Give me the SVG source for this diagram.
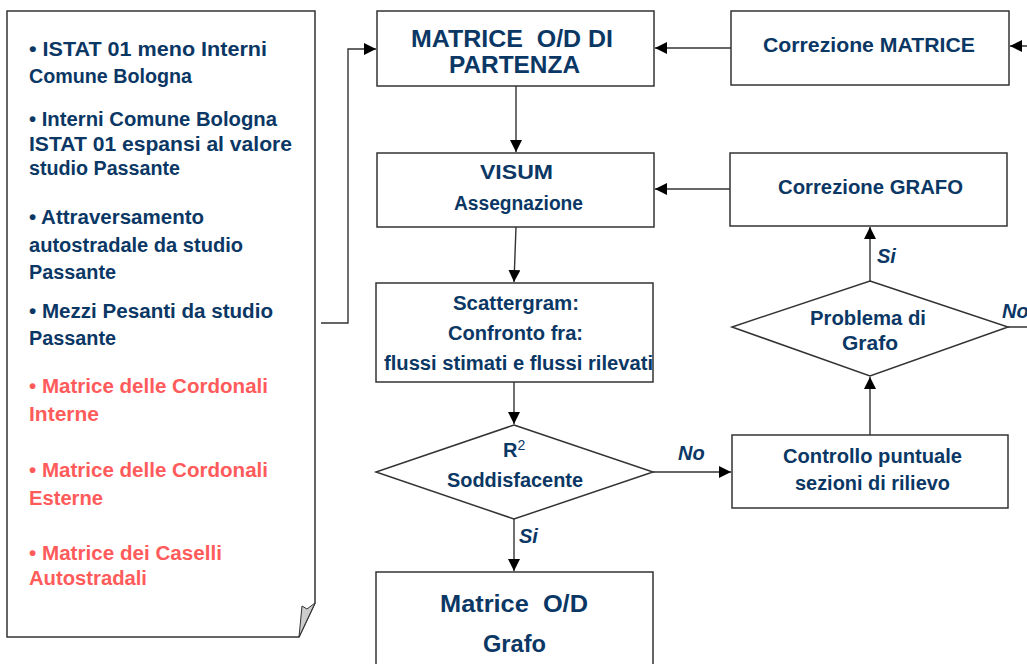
<svg xmlns="http://www.w3.org/2000/svg" width="1027" height="664" viewBox="0 0 1027 664">
<defs>
<marker id="arr" markerUnits="userSpaceOnUse" markerWidth="13" markerHeight="12" refX="12" refY="6" orient="auto">
<path d="M0,0 L12,6 L0,12 Z" fill="#000"/>
</marker>
<style>
.box{fill:#fff;stroke:#333;stroke-width:1.5}
.ln{fill:none;stroke:#333;stroke-width:1.4}
.t{font-family:"Liberation Sans",Arial,sans-serif;font-weight:bold;font-size:20px;fill:#0b3765}
.r{fill:#ff5b5b}
.big{font-size:23px;white-space:pre}
.it{font-style:italic}
</style>
</defs>
<rect width="1027" height="664" fill="#fff"/>

<g id="doc">
<path class="box" d="M7,11 H315 V603 L299,637 H7 Z"/>
<polygon points="315,603 299,637 302,606 307,609" fill="#ccc" stroke="#333" stroke-width="1"/>
<text class="t" x="29" y="56" textLength="238" lengthAdjust="spacingAndGlyphs">• ISTAT 01 meno Interni</text>
<text class="t" x="29" y="83" textLength="163" lengthAdjust="spacingAndGlyphs">Comune Bologna</text>
<text class="t" x="29" y="126" textLength="248" lengthAdjust="spacingAndGlyphs">• Interni Comune Bologna</text>
<text class="t" x="29" y="151" textLength="263" lengthAdjust="spacingAndGlyphs">ISTAT 01 espansi al valore</text>
<text class="t" x="29" y="175" textLength="151" lengthAdjust="spacingAndGlyphs">studio Passante</text>
<text class="t" x="29" y="224" textLength="175" lengthAdjust="spacingAndGlyphs">• Attraversamento</text>
<text class="t" x="29" y="252" textLength="214" lengthAdjust="spacingAndGlyphs">autostradale da studio</text>
<text class="t" x="29" y="279" textLength="87" lengthAdjust="spacingAndGlyphs">Passante</text>
<text class="t" x="29" y="318" textLength="244" lengthAdjust="spacingAndGlyphs">• Mezzi Pesanti da studio</text>
<text class="t" x="29" y="345" textLength="87" lengthAdjust="spacingAndGlyphs">Passante</text>
<text class="t r" x="29" y="393" textLength="239" lengthAdjust="spacingAndGlyphs">• Matrice delle Cordonali</text>
<text class="t r" x="29" y="421" textLength="70" lengthAdjust="spacingAndGlyphs">Interne</text>
<text class="t r" x="29" y="477" textLength="239" lengthAdjust="spacingAndGlyphs">• Matrice delle Cordonali</text>
<text class="t r" x="29" y="505" textLength="74" lengthAdjust="spacingAndGlyphs">Esterne</text>
<text class="t r" x="29" y="560" textLength="193" lengthAdjust="spacingAndGlyphs">• Matrice dei Caselli</text>
<text class="t r" x="29" y="585" textLength="118" lengthAdjust="spacingAndGlyphs">Autostradali</text>
</g>

<g id="matrice-partenza">
<rect class="box" x="377" y="11" width="277" height="75"/>
<text class="t big" x="411" y="47" textLength="202" lengthAdjust="spacingAndGlyphs">MATRICE  O/D DI</text>
<text class="t big" x="449" y="73" textLength="131" lengthAdjust="spacingAndGlyphs">PARTENZA</text>
</g>

<g id="visum">
<rect class="box" x="377" y="153" width="277" height="74"/>
<text class="t" x="480" y="179" textLength="73" lengthAdjust="spacingAndGlyphs">VISUM</text>
<text class="t" x="454" y="210" textLength="129" lengthAdjust="spacingAndGlyphs">Assegnazione</text>
</g>

<g id="scattergram">
<rect class="box" x="376" y="283" width="277" height="99"/>
<text class="t" x="453" y="310" textLength="126" lengthAdjust="spacingAndGlyphs">Scattergram:</text>
<text class="t" x="448" y="340" textLength="135" lengthAdjust="spacingAndGlyphs">Confronto fra:</text>
<text class="t" x="384" y="370" textLength="269" lengthAdjust="spacingAndGlyphs">flussi stimati e flussi rilevati</text>
</g>

<g id="r2">
<polygon class="box" points="514,425 653,472 514,519 376,472"/>
<text class="t" x="503" y="457">R<tspan font-size="14" font-weight="normal" dy="-7">2</tspan></text>
<text class="t" x="447" y="487" textLength="136" lengthAdjust="spacingAndGlyphs">Soddisfacente</text>
</g>

<g id="matrice-grafo">
<rect class="box" x="376" y="572" width="277" height="100"/>
<text class="t big" x="440" y="612" textLength="148" lengthAdjust="spacingAndGlyphs">Matrice  O/D</text>
<text class="t big" x="483" y="652" textLength="63" lengthAdjust="spacingAndGlyphs">Grafo</text>
</g>

<g id="correzione-matrice">
<rect class="box" x="731" y="11" width="278" height="74"/>
<text class="t" x="763" y="52" textLength="212" lengthAdjust="spacingAndGlyphs">Correzione MATRICE</text>
</g>

<g id="correzione-grafo">
<rect class="box" x="730" y="153" width="277" height="73"/>
<text class="t" x="778" y="194" textLength="185" lengthAdjust="spacingAndGlyphs">Correzione GRAFO</text>
</g>

<g id="problema-grafo">
<polygon class="box" points="870,281 1008,327 870,376 732,327"/>
<text class="t" x="810" y="325" textLength="116" lengthAdjust="spacingAndGlyphs">Problema di</text>
<text class="t" x="842" y="350" textLength="56" lengthAdjust="spacingAndGlyphs">Grafo</text>
</g>

<g id="controllo">
<rect class="box" x="732" y="435" width="276" height="73"/>
<text class="t" x="783" y="463" textLength="179" lengthAdjust="spacingAndGlyphs">Controllo puntuale</text>
<text class="t" x="795" y="490" textLength="155" lengthAdjust="spacingAndGlyphs">sezioni di rilievo</text>
</g>

<g id="connectors">
<path class="ln" d="M321,323 H348 V49 H376" marker-end="url(#arr)"/>
<path class="ln" d="M516,86 V152" marker-end="url(#arr)"/>
<path class="ln" d="M516,227 L514,282" marker-end="url(#arr)"/>
<path class="ln" d="M514,382 V424" marker-end="url(#arr)"/>
<path class="ln" d="M514,519 V571" marker-end="url(#arr)"/>
<path class="ln" d="M653,472 H731" marker-end="url(#arr)"/>
<path class="ln" d="M870,435 V377" marker-end="url(#arr)"/>
<path class="ln" d="M870,281 V227" marker-end="url(#arr)"/>
<path class="ln" d="M731,48 H655" marker-end="url(#arr)"/>
<path class="ln" d="M730,189 H655" marker-end="url(#arr)"/>
<path class="ln" d="M1008,327 H1040 V46 H1010" marker-end="url(#arr)"/>
<text class="t it" x="519" y="543">Si</text>
<text class="t it" x="678" y="460">No</text>
<text class="t it" x="877" y="263">Si</text>
<text class="t it" x="1002" y="318">No</text>
</g>
</svg>
